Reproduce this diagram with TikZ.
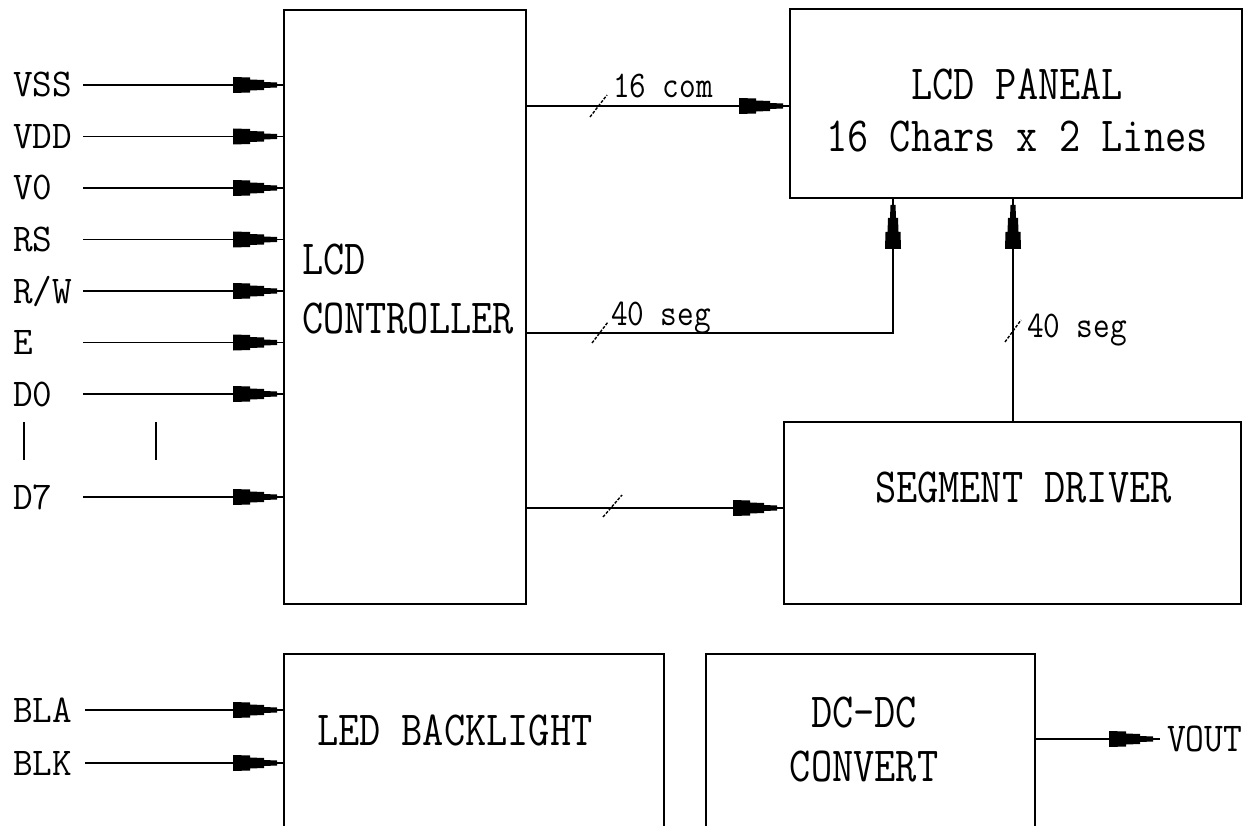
\documentclass[tikz,border=0pt]{standalone}
\usepackage{graphicx}
\pgfdeclarearrow{
  name = Blk,
  setup code = {
    \pgfarrowssettipend{0pt}
    \pgfarrowssetlineend{0pt}
    \pgfarrowssetbackend{-51pt}
  },
  drawing code = {
    \pgfpathmoveto{\pgfqpoint{-51pt}{8pt}}
    \pgfpathlineto{\pgfqpoint{-34pt}{7.5pt}}
    \pgfpathlineto{\pgfqpoint{-34pt}{5.5pt}}
    \pgfpathlineto{\pgfqpoint{-20pt}{5pt}}
    \pgfpathlineto{\pgfqpoint{-20pt}{3pt}}
    \pgfpathlineto{\pgfqpoint{-7pt}{2.5pt}}
    \pgfpathlineto{\pgfqpoint{-7pt}{-2.5pt}}
    \pgfpathlineto{\pgfqpoint{-20pt}{-3pt}}
    \pgfpathlineto{\pgfqpoint{-20pt}{-5pt}}
    \pgfpathlineto{\pgfqpoint{-34pt}{-5.5pt}}
    \pgfpathlineto{\pgfqpoint{-34pt}{-7.5pt}}
    \pgfpathlineto{\pgfqpoint{-51pt}{-8pt}}
    \pgfpathclose
    \pgfusepathqfill
  }
}
\newcommand\TXT[3]{\scalebox{#2}[1]{\fontsize{#1}{#1}\selectfont\ttfamily #3}}
\newcommand\BIG[1]{\TXT{49}{0.84}{#1}}
\newcommand\SML[1]{\TXT{39.3}{0.97}{#1}}
\newcommand\BUS[1]{\TXT{37.6}{0.86}{#1}}
\newcommand\VO[1]{\TXT{41}{0.89}{#1}}
\tikzset{
  box/.style={draw, rectangle, inner sep=0pt, outer sep=0pt, line width=1.6pt},
  txt/.style={inner sep=0pt, outer sep=0pt},
  arr/.style={-Blk, line width=1.6pt},
  wire/.style={line width=1.6pt},
  slash/.style={line width=1.4pt, dash pattern=on 3pt off 1.5pt},
}
\begin{document}
\begin{tikzpicture}[x=1pt, y=-1pt]
\useasboundingbox (0,0) rectangle (1255,826);
\fill[white] (0,0) rectangle (1255,826);
\clip (0,0) rectangle (1255,826);

% boxes
\node[box, minimum width=242pt, minimum height=594pt] (ctrl) at (405,307) {};
\node[box, minimum width=452pt, minimum height=189pt] (panel) at (1016,103.5) {};
\node[box, minimum width=457pt, minimum height=182pt] (seg) at (1012.5,513) {};
\node[box, minimum width=380pt, minimum height=246pt] (led) at (474,777) {};
\node[box, minimum width=329pt, minimum height=246pt] (dc) at (870.5,777) {};

% box texts
\node[txt, anchor=base west] (tlcd) at (302,275) {\BIG{LCD}};
\node[txt, anchor=base west] (tctrl) at (302,333) {\BIG{CONTROLLER}};
\node[txt, anchor=base] (tpan1) at (1017,100) {\BIG{LCD PANEAL}};
\node[txt, anchor=base] (tpan2) at (1017,152) {\BIG{16 Chars x 2 Lines}};
\node[txt, anchor=base west] (tseg) at (875,502) {\BIG{SEGMENT DRIVER}};
\node[txt, anchor=base west] (tled) at (317,745) {\BIG{LED BACKLIGHT}};
\node[txt, anchor=base] (tdc1) at (864,727) {\BIG{DC-DC}};
\node[txt, anchor=base] (tdc2) at (864,781) {\BIG{CONVERT}};

% input labels and wires
\foreach \nm/\lab/\yy in {vss/VSS/85, vdd/VDD/136.5, vo/V0/188, rs/RS/239.5, rw/R\slash W/291, en/E/342.5, dz/D0/394, ds/D7/497}{
  \node[txt, anchor=base west] (l\nm) at (13,\yy+12) {\SML{\lab}};
  \coordinate (s\nm) at (83,\yy);
  \draw[arr] (s\nm) -- (s\nm -| ctrl.west);
}
\foreach \nm/\lab/\yy in {bla/BLA/710, blk/BLK/763}{
  \node[txt, anchor=base west] (l\nm) at (13,\yy+12) {\SML{\lab}};
  \coordinate (s\nm) at (85,\yy);
  \draw[arr] (s\nm) -- (s\nm -| led.west);
}
% continuation bars
\coordinate (bar1t) at (23.7,422); \coordinate (bar1b) at (23.7,460);
\coordinate (bar2t) at (156,422); \coordinate (bar2b) at (156,460);
\draw[wire] (bar1t) -- (bar1b);
\draw[wire] (bar2t) -- (bar2b);

% 16 com
\coordinate (c16) at (600,106);
\draw[arr] (c16 -| ctrl.east) -- (c16 -| panel.west);
\coordinate (k16a) at (590,117); \coordinate (k16b) at (607,95);
\draw[slash] (k16a) -- (k16b);
\node[txt, anchor=base west] (t16) at (613,98) {\BUS{16 com}};

% 40 seg from controller
\coordinate (c40) at (600,333);
\coordinate (pA) at (893,198);
\draw[arr] (c40 -| ctrl.east) -| (pA);
\coordinate (k40a) at (592,343); \coordinate (k40b) at (608,322);
\draw[slash] (k40a) -- (k40b);
\node[txt, anchor=base west] (t40) at (611,325) {\BUS{40 seg}};

% 40 seg from segment driver
\coordinate (pB) at (1013,198);
\draw[arr] (seg.north -| pB) -- (pB);
\coordinate (k40c) at (1005,342); \coordinate (k40d) at (1021,320);
\draw[slash] (k40c) -- (k40d);
\node[txt, anchor=base west] (t40b) at (1027,337) {\BUS{40 seg}};

% controller to segment driver
\coordinate (c508) at (600,508);
\draw[arr] (c508 -| ctrl.east) -- (c508 -| seg.west);
\coordinate (k5a) at (603,517); \coordinate (k5b) at (622,495);
\draw[slash] (k5a) -- (k5b);

% VOUT
\coordinate (vt) at (1160,739);
\draw[arr] (vt -| dc.east) -- (vt);
\node[txt, anchor=base west] (tvout) at (1167,751) {\VO{VOUT}};
\end{tikzpicture}
\end{document}
